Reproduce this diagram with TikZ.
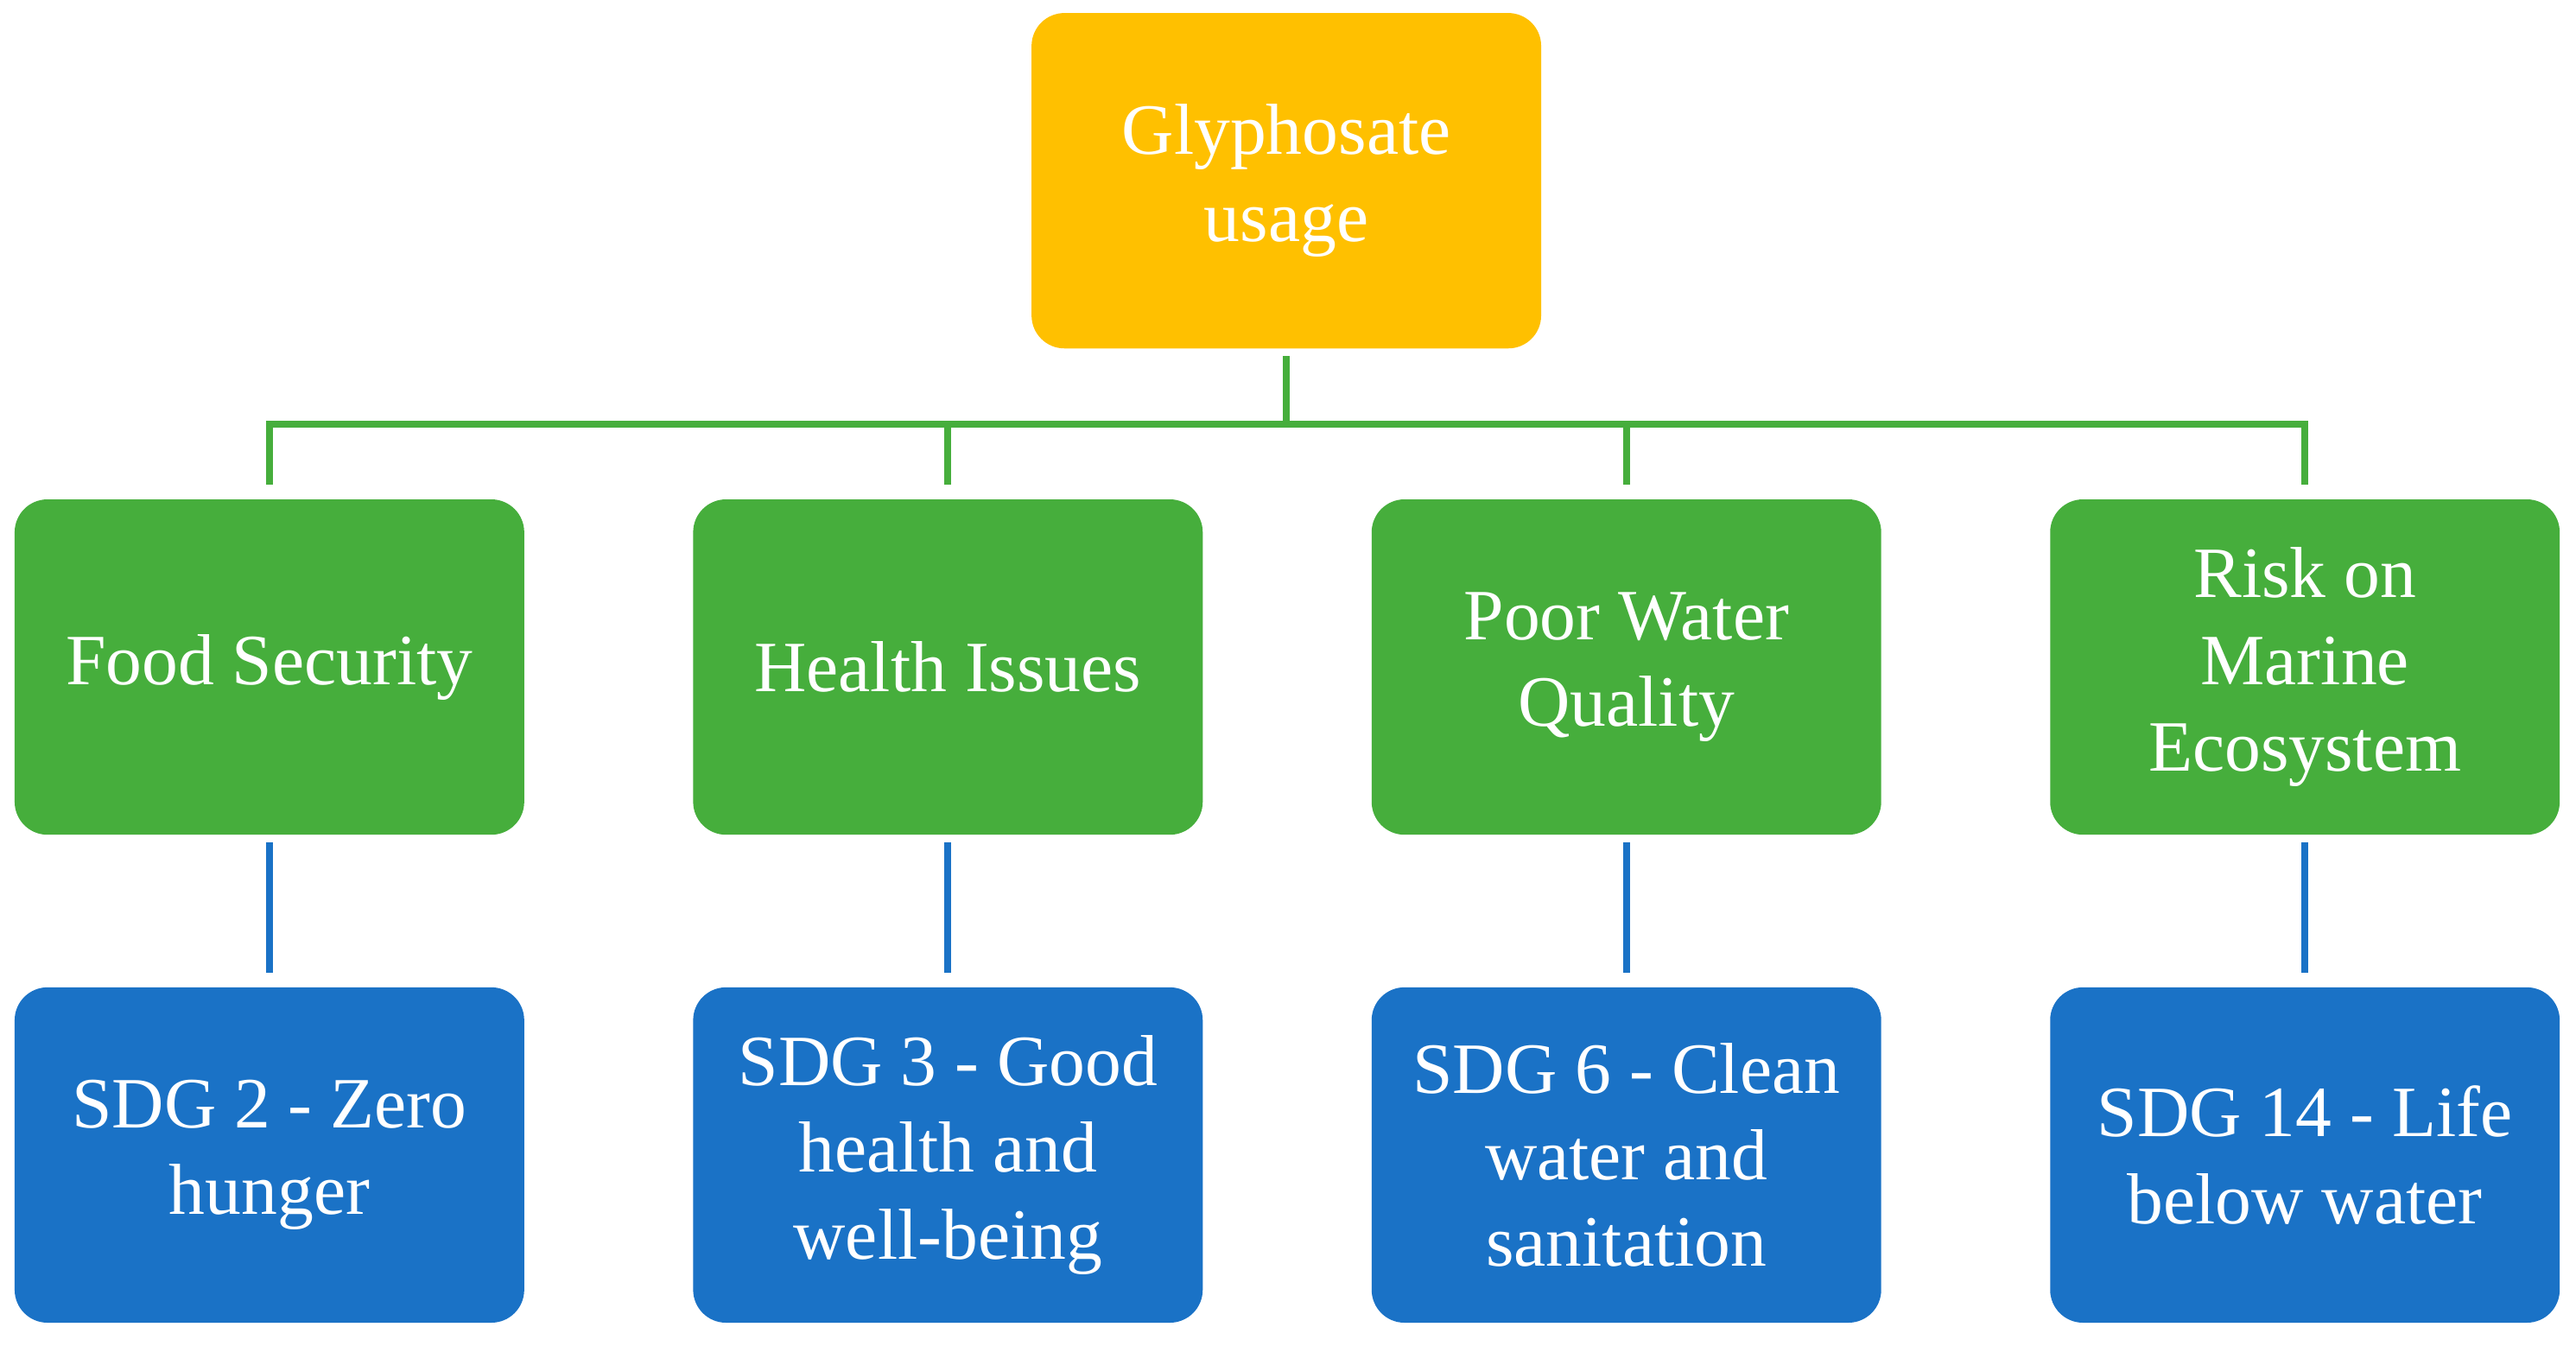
\documentclass[tikz,border=0pt]{standalone}
\usepackage{fontspec}
\setmainfont{Liberation Serif}
\definecolor{gold}{HTML}{FFC000}
\definecolor{grn}{HTML}{46AE3C}
\definecolor{blu}{HTML}{1A72C6}
\begin{document}
\begin{tikzpicture}[x=0.01cm,y=-0.01cm,
 box/.style={rounded corners=0.2cm,minimum width=3.1cm,minimum height=2.04cm,align=center,text=white,font=\fontsize{12.5pt}{15pt}\selectfont,inner sep=0pt},
 gl/.style={draw=grn,line width=1.2pt},
 bl/.style={draw=blu,line width=1.2pt}]
\useasboundingbox (0,0) rectangle (1568,819);
\node[box,fill=gold] (top) at (783,110) {Glyphosate\\usage};
\foreach \n/\x/\g/\b in {a/164/Food Security/SDG 2 - Zero\\hunger, b/577/Health Issues/SDG 3 - Good\\health and\\well-being, c/990/Poor Water\\Quality/SDG 6 - Clean\\water and\\sanitation, d/1403/Risk on\\Marine\\Ecosystem/SDG 14 - Life\\below water}{
 \node[box,fill=grn] (g\n) at (\x,406) {\g};
 \node[box,fill=blu] (s\n) at (\x,703) {\b};
 \draw[bl,shorten <=0.04cm,shorten >=0.08cm] (g\n.south) -- (s\n.north);
}
\coordinate (hub) at (783,258);
\draw[gl,shorten <=0.04cm] (top.south) -- (hub);
\draw[gl,line cap=rect] (ga.north|-hub) -- (gd.north|-hub);
\foreach \n in {a,b,c,d}{\draw[gl,shorten >=0.08cm] (g\n.north|-hub) -- (g\n.north);}
\end{tikzpicture}
\end{document}
